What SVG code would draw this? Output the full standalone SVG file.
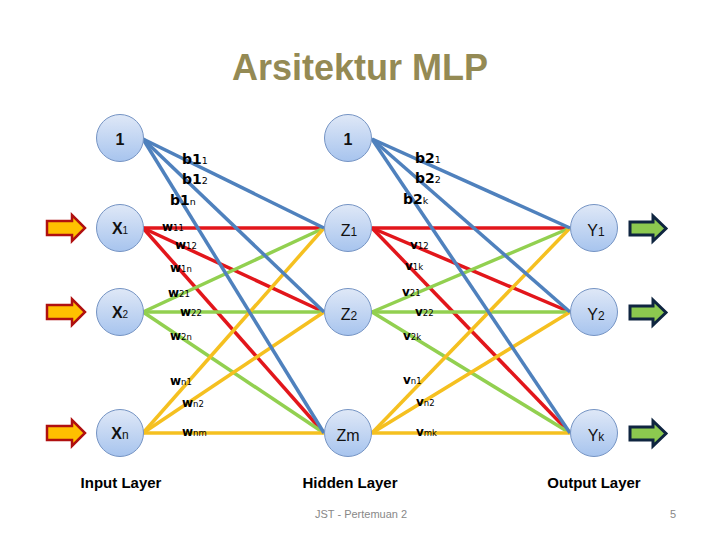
<svg xmlns="http://www.w3.org/2000/svg" width="720" height="540" viewBox="0 0 720 540">
<defs>
<linearGradient id="nodeGrad" x1="0" y1="0" x2="0" y2="1">
<stop offset="0" stop-color="#dfe8f7"/>
<stop offset="1" stop-color="#a7c4ee"/>
</linearGradient>
<style>
.node{fill:url(#nodeGrad);stroke:#7594c4;stroke-width:1}
.blue{stroke:#4f81bd;stroke-width:3.5;fill:none}
.red{stroke:#e2161b;stroke-width:3.5;fill:none}
.green{stroke:#92d050;stroke-width:3.5;fill:none}
.yellow{stroke:#f5c020;stroke-width:3.5;fill:none}
.inArrow{fill:#ffc000;stroke:#b01010;stroke-width:2.5;stroke-linejoin:miter}
.outArrow{fill:#8cc94f;stroke:#0f2540;stroke-width:3;stroke-linejoin:miter}
.lbl{font-family:"DejaVu Sans","Liberation Sans",sans-serif;fill:#000}
.nl{font-family:"Liberation Sans",Arial,sans-serif;font-size:16px;fill:#111;text-anchor:middle}
.b{font-size:14px;font-weight:bold}
.w{font-size:12px;font-weight:bold}
.s{font-size:8.5px;font-weight:normal}
.sb{font-size:9.5px;font-weight:normal}
.layer{font-family:"Liberation Sans",Arial,sans-serif;font-size:15px;font-weight:bold;fill:#000;text-anchor:middle}
.foot{font-family:"Liberation Sans",Arial,sans-serif;font-size:11px;fill:#888}
</style>
</defs>
<rect width="720" height="540" fill="#ffffff"/>
<text x="360" y="80" text-anchor="middle" font-family="'Liberation Sans',Arial,sans-serif" font-size="36" font-weight="bold" fill="#948a54">Arsitektur MLP</text>

<g id="connectors">
<!-- X1 -->
<line class="red" x1="143" y1="228" x2="324" y2="228"/>
<line class="red" x1="143" y1="228" x2="324" y2="312"/>
<line class="red" x1="143" y1="228" x2="324" y2="433"/>
<!-- Z1 -->
<line class="red" x1="372" y1="228" x2="570" y2="228"/>
<line class="red" x1="372" y1="228" x2="570" y2="312"/>
<line class="red" x1="372" y1="228" x2="570" y2="433"/>
<!-- X2 -->
<line class="green" x1="143" y1="312" x2="324" y2="228"/>
<line class="green" x1="143" y1="312" x2="324" y2="312"/>
<line class="green" x1="143" y1="312" x2="324" y2="433"/>
<!-- Z2 -->
<line class="green" x1="372" y1="312" x2="570" y2="228"/>
<line class="green" x1="372" y1="312" x2="570" y2="312"/>
<line class="green" x1="372" y1="312" x2="570" y2="433"/>
<!-- Xn -->
<line class="yellow" x1="143" y1="433" x2="324" y2="228"/>
<line class="yellow" x1="143" y1="433" x2="324" y2="312"/>
<line class="yellow" x1="143" y1="433" x2="324" y2="433"/>
<!-- Zm -->
<line class="yellow" x1="372" y1="433" x2="570" y2="228"/>
<line class="yellow" x1="372" y1="433" x2="570" y2="312"/>
<line class="yellow" x1="372" y1="433" x2="570" y2="433"/>
<!-- bias 1 -->
<line class="blue" x1="143" y1="139" x2="324" y2="228"/>
<line class="blue" x1="143" y1="139" x2="324" y2="312"/>
<line class="blue" x1="143" y1="139" x2="324" y2="433"/>
<!-- bias 2 -->
<line class="blue" x1="372" y1="139" x2="570" y2="228"/>
<line class="blue" x1="372" y1="139" x2="570" y2="312"/>
<line class="blue" x1="372" y1="139" x2="570" y2="433"/>
</g>

<g id="input-arrows">
<polygon class="inArrow" points="47,221 72,221 72,215 85,228 72,241 72,235 47,235"/>
<polygon class="inArrow" points="47,305 72,305 72,299 85,312 72,325 72,319 47,319"/>
<polygon class="inArrow" points="47,426 72,426 72,420 85,433 72,446 72,440 47,440"/>
</g>
<g id="output-arrows">
<polygon class="outArrow" points="630,222 653,222 653,216 666,228.5 653,241 653,235 630,235"/>
<polygon class="outArrow" points="630,306 653,306 653,300 666,312.5 653,325 653,319 630,319"/>
<polygon class="outArrow" points="630,427 653,427 653,421 666,433.5 653,446 653,440 630,440"/>
</g>

<g id="node-bias1"><circle class="node" cx="120" cy="138" r="23.5"/><text class="nl" x="120" y="145" font-size="20" font-weight="bold">1</text></g>
<g id="node-x1"><circle class="node" cx="120" cy="228" r="23.5"/><text class="nl" x="120" y="234" font-weight="bold">X<tspan font-size="10" font-weight="normal">1</tspan></text></g>
<g id="node-x2"><circle class="node" cx="120" cy="312" r="23.5"/><text class="nl" x="120" y="318" font-weight="bold">X<tspan font-size="10" font-weight="normal">2</tspan></text></g>
<g id="node-xn"><circle class="node" cx="120" cy="433" r="23.5"/><text class="nl" x="120" y="439" font-weight="bold">X<tspan font-size="12" font-weight="normal">n</tspan></text></g>

<g id="node-bias2"><circle class="node" cx="348" cy="138" r="23.5"/><text class="nl" x="348" y="145" font-size="20" font-weight="bold">1</text></g>
<g id="node-z1"><circle class="node" cx="348" cy="228" r="23.5"/><text class="nl" x="349" y="236" font-size="17">Z<tspan font-size="12">1</tspan></text></g>
<g id="node-z2"><circle class="node" cx="348" cy="312" r="23.5"/><text class="nl" x="349" y="320" font-size="17">Z<tspan font-size="12">2</tspan></text></g>
<g id="node-zm"><circle class="node" cx="348" cy="433" r="23.5"/><text class="nl" x="348" y="441" font-size="17">Zm</text></g>

<g id="node-y1"><circle class="node" cx="594" cy="228" r="23.5"/><text class="nl" x="596" y="236" font-size="17">Y<tspan font-size="12">1</tspan></text></g>
<g id="node-y2"><circle class="node" cx="594" cy="312" r="23.5"/><text class="nl" x="596" y="320" font-size="17">Y<tspan font-size="12">2</tspan></text></g>
<g id="node-yk"><circle class="node" cx="594" cy="433" r="23.5"/><text class="nl" x="596" y="441" font-size="17">Y<tspan font-size="12">k</tspan></text></g>

<g id="weight-labels" class="lbl">
<text class="b" x="182" y="164">b1<tspan class="sb">1</tspan></text>
<text class="b" x="182" y="184">b1<tspan class="sb">2</tspan></text>
<text class="b" x="170" y="205">b1<tspan class="sb">n</tspan></text>
<text class="w" x="162" y="231">w<tspan class="s">11</tspan></text>
<text class="w" x="175" y="249">w<tspan class="s">12</tspan></text>
<text class="w" x="170" y="272">w<tspan class="s">1n</tspan></text>
<text class="w" x="168" y="297">w<tspan class="s">21</tspan></text>
<text class="w" x="180" y="316">w<tspan class="s">22</tspan></text>
<text class="w" x="170" y="340">w<tspan class="s">2n</tspan></text>
<text class="w" x="170" y="385">w<tspan class="s">n1</tspan></text>
<text class="w" x="182" y="407">w<tspan class="s">n2</tspan></text>
<text class="w" x="182" y="436">w<tspan class="s">nm</tspan></text>

<text class="b" x="415" y="163">b2<tspan class="sb">1</tspan></text>
<text class="b" x="415" y="183">b2<tspan class="sb">2</tspan></text>
<text class="b" x="403" y="204">b2<tspan class="sb">k</tspan></text>
<text class="w" x="410" y="249">v<tspan class="s">12</tspan></text>
<text class="w" x="405" y="270">v<tspan class="s">1k</tspan></text>
<text class="w" x="402" y="296">v<tspan class="s">21</tspan></text>
<text class="w" x="415" y="316">v<tspan class="s">22</tspan></text>
<text class="w" x="403" y="340">v<tspan class="s">2k</tspan></text>
<text class="w" x="403" y="384">v<tspan class="s">n1</tspan></text>
<text class="w" x="416" y="406">v<tspan class="s">n2</tspan></text>
<text class="w" x="416" y="436">v<tspan class="s">mk</tspan></text>
</g>

<g id="layer-labels">
<text class="layer" x="121" y="488">Input Layer</text>
<text class="layer" x="350" y="488">Hidden Layer</text>
<text class="layer" x="594" y="488">Output Layer</text>
</g>
<text class="foot" x="315" y="518">JST - Pertemuan 2</text>
<text class="foot" x="670" y="518">5</text>
</svg>
